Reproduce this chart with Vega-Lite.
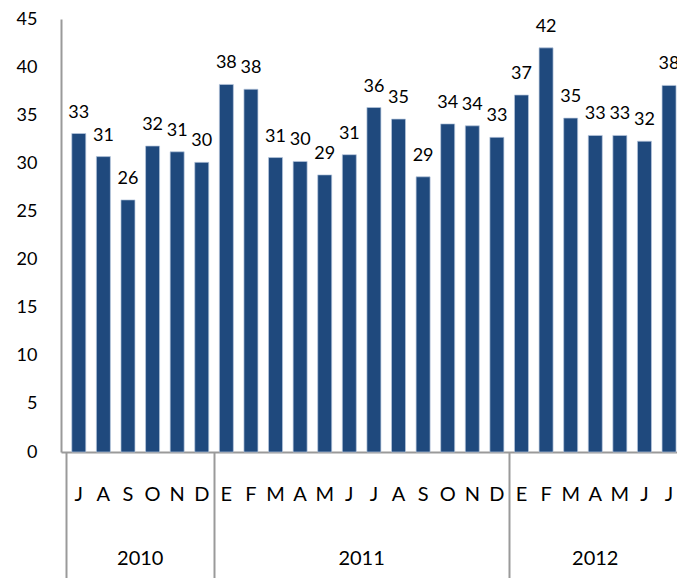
{
  "$schema": "https://vega.github.io/schema/vega-lite/v6.json",
  "width": 616,
  "height": 433,
  "autosize": "none",
  "padding": {"left": 61, "top": 19, "right": 0, "bottom": 126},
  "background": "white",
  "config": {"view": {"stroke": null}, "font": "Lato", "text": {"color": "#000000"}},
  "data": {"values": [
    {"idx": 0, "m": "J", "year": "2010", "v": 33.1},
    {"idx": 1, "m": "A", "year": "2010", "v": 30.7},
    {"idx": 2, "m": "S", "year": "2010", "v": 26.2},
    {"idx": 3, "m": "O", "year": "2010", "v": 31.8},
    {"idx": 4, "m": "N", "year": "2010", "v": 31.2},
    {"idx": 5, "m": "D", "year": "2010", "v": 30.1},
    {"idx": 6, "m": "E", "year": "2011", "v": 38.2},
    {"idx": 7, "m": "F", "year": "2011", "v": 37.7},
    {"idx": 8, "m": "M", "year": "2011", "v": 30.6},
    {"idx": 9, "m": "A", "year": "2011", "v": 30.2},
    {"idx": 10, "m": "M", "year": "2011", "v": 28.8},
    {"idx": 11, "m": "J", "year": "2011", "v": 30.9},
    {"idx": 12, "m": "J", "year": "2011", "v": 35.8},
    {"idx": 13, "m": "A", "year": "2011", "v": 34.6},
    {"idx": 14, "m": "S", "year": "2011", "v": 28.6},
    {"idx": 15, "m": "O", "year": "2011", "v": 34.1},
    {"idx": 16, "m": "N", "year": "2011", "v": 33.9},
    {"idx": 17, "m": "D", "year": "2011", "v": 32.7},
    {"idx": 18, "m": "E", "year": "2012", "v": 37.1},
    {"idx": 19, "m": "F", "year": "2012", "v": 42.0},
    {"idx": 20, "m": "M", "year": "2012", "v": 34.7},
    {"idx": 21, "m": "A", "year": "2012", "v": 32.9},
    {"idx": 22, "m": "M", "year": "2012", "v": 32.9},
    {"idx": 23, "m": "J", "year": "2012", "v": 32.3},
    {"idx": 24, "m": "J", "year": "2012", "v": 38.1}
  ]},
  "layer": [
    {
      "mark": {"type": "bar", "size": 14, "color": "#1F497D", "stroke": "#B9C9DE", "strokeWidth": 0.7},
      "encoding": {
        "x": {"field": "idx", "type": "quantitative",
              "scale": {"domain": [-0.52, 24.12], "nice": false, "zero": false},
              "axis": {"values": [-0.51, 5.5, 17.5], "tickSize": 126, "tickColor": "#9a9a9a", "tickWidth": 2,
                       "domainColor": "#9a9a9a", "domainWidth": 2, "labels": false, "title": null, "grid": false}},
        "y": {"field": "v", "type": "quantitative",
              "scale": {"domain": [0, 45], "nice": false, "zero": true},
              "axis": {"values": [0, 5, 10, 15, 20, 25, 30, 35, 40, 45], "ticks": false, "grid": false,
                       "domainColor": "#9a9a9a", "domainWidth": 2, "labelFontSize": 18, "labelPadding": 24,
                       "labelColor": "#000000", "labelFont": "Lato", "title": null}}
      }
    },
    {
      "mark": {"type": "text", "fontSize": 18, "dy": -16, "baseline": "alphabetic", "align": "center"},
      "encoding": {
        "x": {"field": "idx", "type": "quantitative"},
        "y": {"field": "v", "type": "quantitative"},
        "text": {"field": "v", "type": "quantitative", "format": ".0f"}
      }
    },
    {
      "mark": {"type": "text", "fontSize": 20, "dy": 43, "baseline": "middle", "align": "center"},
      "encoding": {
        "x": {"field": "idx", "type": "quantitative"},
        "y": {"datum": 0},
        "text": {"field": "m", "type": "nominal"}
      }
    },
    {
      "transform": [{"aggregate": [{"op": "mean", "field": "idx", "as": "c"}], "groupby": ["year"]}],
      "mark": {"type": "text", "fontSize": 20, "dy": 107, "baseline": "middle", "align": "center"},
      "encoding": {
        "x": {"field": "c", "type": "quantitative"},
        "y": {"datum": 0},
        "text": {"field": "year", "type": "nominal"}
      }
    }
  ]
}
